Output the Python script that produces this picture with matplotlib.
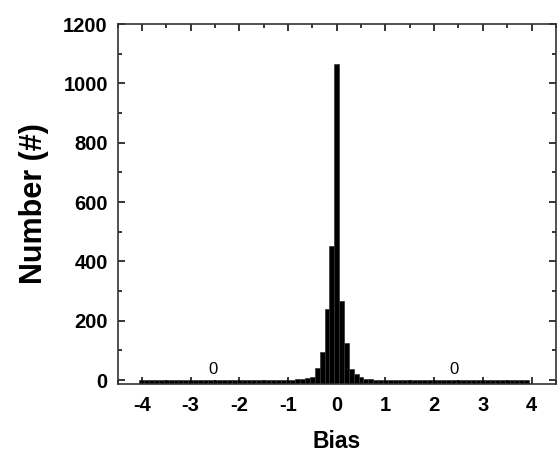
import matplotlib
matplotlib.use("Agg")
from matplotlib import pyplot as plt
from matplotlib.ticker import MultipleLocator
import numpy as np

# bin centres (width 0.1) and counts
bias = np.round(np.arange(-40, 40) * 0.1, 1)
counts = np.ones(len(bias))
near = {-1.0: 2, -0.9: 2, -0.8: 3, -0.7: 4, -0.6: 6, -0.5: 12,
        -0.4: 42, -0.3: 95, -0.2: 240, -0.1: 452, 0.0: 1065,
        0.1: 266, 0.2: 124, 0.3: 36, 0.4: 20, 0.5: 10,
        0.6: 4, 0.7: 3, 0.8: 2, 0.9: 2}
for b, c in near.items():
    counts[np.argmin(abs(bias - b))] = c

label_x = [-2.55, 2.4]
label_y = [35, 35]
label_text = ["0", "0"]

plt.rcParams['font.family'] = ['Liberation Sans', 'DejaVu Sans']
plt.rcParams['axes.unicode_minus'] = False

fig = plt.figure(figsize=(5.57, 4.53), dpi=100)
ax = fig.add_axes([0.211, 0.153, 0.787, 0.794])

y_lo = -12
ax.bar(bias, counts - y_lo, bottom=y_lo, width=0.1, color='black',
       edgecolor='#333333', linewidth=0.5)

for x, y, t in zip(label_x, label_y, label_text):
    ax.text(x, y, t, ha='center', va='center', fontsize=12)

ax.set_xlim(-4.5, 4.5)
ax.set_ylim(y_lo, 1200)
ax.xaxis.set_major_locator(MultipleLocator(1))
ax.xaxis.set_minor_locator(MultipleLocator(0.5))
ax.yaxis.set_major_locator(MultipleLocator(200))
ax.yaxis.set_minor_locator(MultipleLocator(100))
ax.tick_params(which='both', direction='in', top=True, right=True, width=1.1)
ax.tick_params(which='major', length=5)
ax.tick_params(which='minor', length=3)
ax.tick_params(axis='x', pad=9)
ax.tick_params(axis='y', pad=7)
for lab in ax.get_xticklabels() + ax.get_yticklabels():
    lab.set_fontsize(14.5)
    lab.set_fontweight('bold')
for s in ax.spines.values():
    s.set_linewidth(1.2)
    s.set_color('#333333')

ax.set_xlabel("Bias", fontsize=16.5, fontweight='bold', labelpad=11)
ax.set_ylabel("Number (#)", fontsize=22, fontweight='bold', labelpad=10)

fig.savefig("out.png", dpi=100)
